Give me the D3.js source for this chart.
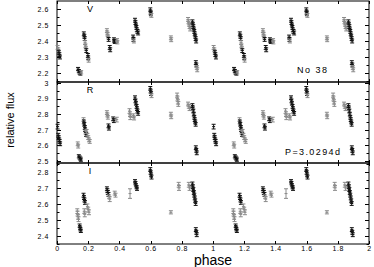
<!DOCTYPE html>
<meta charset="utf-8">
<style>
body { margin: 0; background: #fff; }
text { font-family: Arial, "Liberation Sans", sans-serif; fill: #000; }
.tick text { font-size: 7px; letter-spacing: 0.6px; }
</style>
<svg width="374" height="267"></svg>
<script src="https://d3js.org/d3.v7.min.js"></script>
<script>
// phased light curve, three bands, period P = 3.0294 d
// each point: [phase, relative flux, error, run]  (run 0 = black, 1 = grey)
var vData = [
  [0.004,2.36,.012,1],[0.008,2.345,.012,1],[0.012,2.33,.012,0],[0.015,2.315,.012,0],[0.019,2.30,.012,0],
  [0.135,2.225,.01,0],[0.14,2.212,.01,0],[0.145,2.203,.01,0],[0.15,2.197,.01,0],[0.155,2.205,.01,1],
  [0.172,2.445,.012,0],[0.175,2.43,.012,0],[0.178,2.415,.012,0],[0.18,2.39,.012,1],[0.182,2.37,.012,1],[0.185,2.355,.012,1],[0.188,2.34,.012,0],
  [0.198,2.31,.012,0],[0.2,2.295,.012,0],[0.203,2.28,.012,1],
  [0.32,2.465,.012,1],[0.322,2.45,.012,1],[0.325,2.44,.012,1],[0.328,2.425,.012,1],[0.331,2.41,.012,0],[0.338,2.36,.012,0],[0.341,2.345,.012,0],
  [0.365,2.41,.01,0],[0.368,2.40,.01,0],[0.371,2.395,.01,0],[0.385,2.405,.01,1],[0.387,2.392,.01,1],
  [0.488,2.425,.012,0],[0.49,2.41,.012,0],[0.493,2.40,.012,1],[0.5,2.53,.012,0],[0.503,2.515,.012,0],[0.506,2.50,.012,0],[0.509,2.485,.012,0],[0.512,2.47,.012,0],[0.516,2.46,.012,0],[0.52,2.45,.012,0],
  [0.598,2.595,.012,0],[0.6,2.58,.012,0],[0.602,2.57,.012,0],[0.605,2.56,.012,1],
  [0.73,2.42,.012,1],[0.732,2.408,.012,1],
  [0.84,2.535,.012,1],[0.843,2.52,.012,1],[0.846,2.505,.012,1],[0.85,2.49,.012,1],[0.854,2.475,.012,1],
  [0.868,2.52,.012,0],[0.871,2.505,.012,0],[0.874,2.49,.012,0],[0.877,2.475,.012,0],[0.88,2.46,.012,0],[0.883,2.445,.012,0],[0.886,2.43,.012,0],[0.889,2.415,.012,0],[0.892,2.40,.012,0],
  [0.89,2.265,.012,0],[0.893,2.25,.012,0],[0.896,2.235,.012,1],[0.899,2.22,.012,1]
];

var rData = [
  [0.004,2.72,.015,0],[0.008,2.665,.012,0],[0.011,2.65,.012,0],[0.014,2.635,.012,0],[0.017,2.625,.012,0],[0.02,2.61,.012,0],
  [0.133,2.61,.012,1],[0.136,2.595,.012,1],
  [0.14,2.53,.01,0],[0.145,2.522,.01,0],[0.15,2.515,.01,0],[0.153,2.508,.01,0],
  [0.17,2.765,.012,1],[0.172,2.75,.012,0],[0.175,2.735,.012,0],[0.178,2.715,.012,0],[0.18,2.70,.012,0],[0.183,2.685,.012,1],[0.186,2.67,.012,0],
  [0.19,2.69,.012,1],[0.195,2.665,.012,1],[0.2,2.65,.012,1],[0.205,2.635,.012,1],[0.21,2.625,.012,1],
  [0.32,2.81,.012,1],[0.323,2.795,.012,1],[0.326,2.78,.012,1],[0.33,2.725,.012,0],[0.333,2.71,.012,0],
  [0.36,2.77,.012,0],[0.365,2.758,.012,0],[0.383,2.765,.015,1],
  [0.465,2.82,.015,1],[0.468,2.80,.015,1],[0.47,2.78,.015,1],
  [0.49,2.79,.012,1],[0.494,2.775,.012,1],[0.5,2.905,.012,0],[0.503,2.885,.012,0],[0.506,2.87,.012,0],[0.51,2.85,.012,0],[0.513,2.835,.012,0],[0.516,2.82,.012,0],[0.52,2.805,.012,0],
  [0.598,2.965,.012,0],[0.6,2.948,.012,0],[0.603,2.932,.012,0],[0.606,2.918,.012,1],
  [0.73,2.80,.012,1],[0.732,2.783,.012,1],
  [0.77,2.92,.015,1],[0.772,2.90,.015,1],[0.775,2.88,.015,1],[0.778,2.865,.015,1],
  [0.84,2.865,.012,1],[0.845,2.85,.012,1],[0.85,2.835,.012,1],
  [0.868,2.855,.012,0],[0.871,2.84,.012,0],[0.874,2.82,.012,0],[0.877,2.80,.012,0],[0.88,2.78,.012,0],[0.883,2.765,.012,0],[0.886,2.75,.012,0],[0.889,2.735,.012,0],
  [0.89,2.585,.012,0],[0.893,2.568,.012,0],[0.896,2.552,.012,0]
];

var iData = [
  [0.13,2.555,.015,1],[0.132,2.54,.015,1],[0.135,2.52,.015,1],[0.138,2.505,.015,1],
  [0.145,2.465,.01,0],[0.148,2.452,.01,0],[0.15,2.442,.01,0],[0.153,2.432,.01,0],
  [0.17,2.655,.012,0],[0.173,2.64,.012,0],[0.176,2.625,.012,0],[0.179,2.61,.012,0],
  [0.175,2.555,.015,1],[0.178,2.535,.015,1],
  [0.195,2.585,.015,1],[0.2,2.565,.015,1],[0.205,2.548,.015,1],
  [0.32,2.695,.012,0],[0.323,2.683,.012,0],[0.326,2.672,.012,0],[0.33,2.66,.012,0],[0.334,2.645,.012,1],[0.338,2.63,.015,1],
  [0.37,2.668,.012,1],[0.375,2.655,.012,1],
  [0.468,2.665,.03,1],
  [0.5,2.742,.01,0],[0.503,2.73,.01,0],[0.506,2.717,.01,0],[0.51,2.705,.01,0],[0.513,2.695,.01,0],
  [0.598,2.815,.012,0],[0.6,2.798,.012,0],[0.603,2.782,.012,0],[0.606,2.768,.012,0],
  [0.73,2.548,.01,1],
  [0.78,2.72,.015,1],[0.782,2.70,.015,1],
  [0.845,2.72,.015,1],[0.85,2.70,.015,1],
  [0.868,2.725,.012,0],[0.871,2.708,.012,0],[0.874,2.69,.012,0],[0.877,2.672,.012,0],[0.88,2.655,.012,0],[0.883,2.638,.012,0],[0.886,2.62,.012,0],[0.889,2.603,.012,0],
  [0.89,2.44,.012,0],[0.893,2.423,.012,0],[0.896,2.408,.012,0]
];

var bandNames = ["V", "R", "I"];
var bandDomains = [[2.144, 2.65], [2.487, 3.006], [2.35, 2.856]];
var bandTicks = [[2.2, 2.3, 2.4, 2.5, 2.6], [2.5, 2.6, 2.7, 2.8, 2.9, 3], [2.4, 2.5, 2.6, 2.7, 2.8]];
var phaseTicks = [0, 0.2, 0.4, 0.6, 0.8, 1, 1.2, 1.4, 1.6, 1.8, 2];
var runColors = ["#111", "#8a8a8a"];

var svg = d3.select("svg");
var left = 57, right = 369;
var panelTop = [1, 82, 163], panelH = 81;

var x = d3.scaleLinear().domain([0, 2]).range([left, right]);

// two cycles: phase and phase + 1
function twoCycles(arr) {
  return arr.concat(arr.map(function(d) { return [d[0] + 1, d[1], d[2], d[3]]; }));
}

[vData, rData, iData].forEach(function(data, k) {
  var top = panelTop[k], bot = top + panelH;
  var y = d3.scaleLinear().domain(bandDomains[k]).range([bot, top]);
  var g = svg.append("g");

  // frame
  g.append("rect").attr("x", left).attr("y", top).attr("width", right - left).attr("height", panelH)
    .attr("fill", "none").attr("stroke", "#000").attr("stroke-width", 1);

  // minor y ticks every 0.05, both sides
  var minor = d3.range(Math.ceil(bandDomains[k][0] / 0.05) * 0.05, bandDomains[k][1], 0.05);
  minor.forEach(function(v) {
    var yy = Math.round(y(v)) + 0.5;
    var isMajor = Math.abs(v * 10 - Math.round(v * 10)) < 1e-6;
    var len = isMajor ? 4 : 2.5;
    g.append("line").attr("x1", left).attr("x2", left + len).attr("y1", yy).attr("y2", yy).attr("stroke", "#000");
    g.append("line").attr("x1", right - len).attr("x2", right).attr("y1", yy).attr("y2", yy).attr("stroke", "#000");
  });

  // left axis labels
  var ax = g.append("g").attr("transform", "translate(" + (left - 5) + ",0)")
    .call(d3.axisLeft(y).tickValues(bandTicks[k]).tickSize(0).tickFormat(function(d) { return d === 3 ? "3" : d3.format(".1f")(d); }));
  ax.select(".domain").remove();
  ax.selectAll("text").attr("fill", "#333");

  // x ticks on top and bottom, inward
  phaseTicks.forEach(function(p) {
    var xx = Math.round(x(p)) + 0.5;
    g.append("line").attr("x1", xx).attr("x2", xx).attr("y1", bot).attr("y2", bot - 3).attr("stroke", "#000");
    g.append("line").attr("x1", xx).attr("x2", xx).attr("y1", top).attr("y2", top + 3).attr("stroke", "#000");
  });

  // error bars
  var pts = g.append("g").selectAll("g")
    .data(twoCycles(data).filter(function(d) { return d[0] <= 2; }))
    .enter().append("g")
    .attr("stroke", function(d) { return runColors[d[3]]; })
    .attr("stroke-width", 1);
  pts.append("line")
    .attr("x1", function(d) { return x(d[0]); }).attr("x2", function(d) { return x(d[0]); })
    .attr("y1", function(d) { return y(d[1] - d[2]); }).attr("y2", function(d) { return y(d[1] + d[2]); });
  [-1, 0, 1].forEach(function(s) {
    pts.append("line")
      .attr("x1", function(d) { return x(d[0]) - (s === 0 ? 1.5 : 2); })
      .attr("x2", function(d) { return x(d[0]) + (s === 0 ? 1.5 : 2); })
      .attr("y1", function(d) { return y(d[1] + s * d[2]); })
      .attr("y2", function(d) { return y(d[1] + s * d[2]); });
  });

  // band label
  g.append("text").attr("x", 90).attr("y", top + 11).attr("text-anchor", "middle")
    .style("font-size", "9px").text(bandNames[k]);
});

// phase axis labels
var xa = svg.append("g").attr("transform", "translate(0,244)")
  .call(d3.axisBottom(x).tickValues(phaseTicks).tickSize(0).tickPadding(2)
    .tickFormat(function(d) { return d % 1 === 0 ? String(d) : d3.format(".1f")(d); }));
xa.select(".domain").remove();
xa.selectAll("text").attr("fill", "#333");

svg.append("text").attr("x", 213).attr("y", 265).attr("text-anchor", "middle")
  .style("font-size", "14px").text("phase");

svg.append("text").attr("transform", "translate(14,120) rotate(-90)").attr("text-anchor", "middle")
  .style("font-size", "11px").text("relative flux");

svg.append("text").attr("x", 297).attr("y", 73).attr("textLength", 30)
  .style("font-size", "9px").text("No 38");

svg.append("text").attr("x", 285).attr("y", 155).attr("textLength", 55)
  .style("font-size", "9px").text("P=3.0294d");
</script>
